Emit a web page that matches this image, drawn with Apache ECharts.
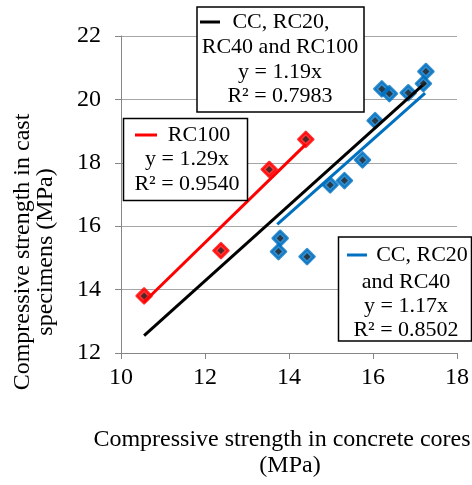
<!DOCTYPE html>
<html><head><meta charset="utf-8">
<script src="https://cdn.jsdelivr.net/npm/echarts@6/dist/echarts.min.js"></script>
<style>html,body{margin:0;padding:0;background:#fff}#c{width:472px;height:485px}</style>
</head><body><div id="c"></div>
<script>
// ---- data ----
var xTicks = [10, 12, 14, 16, 18];
var yTicks = [12, 14, 16, 18, 20, 22];
var rc100Points = [[10.55,13.80],[12.38,15.23],[13.53,17.79],[14.40,18.74]];
var ccRc20Rc40Points = [[13.79,15.62],[13.75,15.20],[14.43,15.04],[14.98,17.30],[15.32,17.44],[15.75,18.09],[16.05,19.33],[16.21,20.33],[16.39,20.18],[16.84,20.21],[17.20,20.50],[17.26,20.88]];
var allPoints = rc100Points.concat(ccRc20Rc40Points);
var trendAll = [[10.55,12.55],[17.25,20.53]];
var trendRc100 = [[10.55,13.61],[14.40,18.58]];
var trendCc = [[13.72,16.06],[17.24,20.20]];
var xTitle = ['Compressive strength in concrete cores', '(MPa)'];
var yTitle = ['Compressive strength in cast', 'specimens (MPa)'];
var legAll = ['CC, RC20,', 'RC40 and RC100', 'y = 1.19x', 'R² = 0.7983'];
var legRc100 = ['RC100', 'y = 1.29x', 'R² = 0.9540'];
var legCc = ['CC, RC20', 'and RC40', 'y = 1.17x', 'R² = 0.8502'];

var FONT = '"Liberation Serif", "Times New Roman", serif';
var chart = echarts.init(document.getElementById('c'));

function txt(s, x, y, size, extra) {
  var o = {type:'text', x:x, y:y, z:100, style:{text:s, font: size+'px '+FONT, fill:'#000', align:'center', verticalAlign:'middle'}};
  if (extra) for (var k in extra) o[k]=extra[k];
  return o;
}
function box(x, y, w, h) {
  return {type:'rect', z:90, shape:{x:x,y:y,width:w,height:h}, style:{fill:'#fff', stroke:'#000', lineWidth:1.5}};
}
function dash(x1, x2, y, color) {
  return {type:'line', z:100, shape:{x1:x1,y1:y,x2:x2,y2:y}, style:{stroke:color, lineWidth:3}};
}
var LF = 22, TF = 24;
var graphics = [
  // y title
  txt(yTitle[0], 23, 252, TF, {rotation: Math.PI/2}),
  txt(yTitle[1], 46, 252, TF, {rotation: Math.PI/2}),
  // x title
  txt(xTitle[0], 282, 440, TF),
  txt(xTitle[1], 290, 466, TF),
  // legend box all
  box(197, 7, 167, 105),
  dash(200, 220, 22, '#000'),
  txt(legAll[0], 281, 22, LF),
  txt(legAll[1], 280, 47, LF),
  txt(legAll[2], 280, 72, LF),
  txt(legAll[3], 280, 96, LF),
  // legend box RC100
  box(123.5, 118.5, 124, 82),
  dash(135, 157, 135, '#FF0000'),
  txt(legRc100[0], 199, 135, LF),
  txt(legRc100[1], 187, 159, LF),
  txt(legRc100[2], 187, 184, LF),
  // legend box CC
  box(338.5, 237, 133, 104),
  dash(347, 367, 255, '#0070C0'),
  txt(legCc[0], 422, 255, LF),
  txt(legCc[1], 406, 282, LF),
  txt(legCc[2], 406, 306, LF),
  txt(legCc[3], 406, 330, LF)
];

chart.setOption({
  animation: false,
  backgroundColor: '#fff',
  grid: {left: 121, right: 15, top: 36, bottom: 132, containLabel: false},
  xAxis: {
    type: 'value', min: xTicks[0], max: xTicks[xTicks.length-1], interval: 2,
    axisLine: {show: true, lineStyle: {color: '#868686', width: 1}},
    axisTick: {show: true, inside: false, length: 6, lineStyle: {color: '#868686'}},
    axisLabel: {color: '#000', fontFamily: FONT, fontSize: 24, margin: 13},
    splitLine: {show: false}
  },
  yAxis: {
    type: 'value', min: yTicks[0], max: yTicks[yTicks.length-1], interval: 2,
    axisLine: {show: true, lineStyle: {color: '#868686', width: 1}},
    axisTick: {show: true, inside: false, length: 6, lineStyle: {color: '#868686'}},
    axisLabel: {color: '#000', fontFamily: FONT, fontSize: 24, margin: 20},
    splitLine: {show: true, lineStyle: {color: '#a6a6a6', width: 1}}
  },
  graphic: graphics,
  series: [
    {type:'scatter', name:'RC100', data: rc100Points, symbol:'diamond', symbolSize:15,
     itemStyle:{color:'#FF0000', borderColor:'#FF0000', borderWidth:2.5, borderJoin:'round'}, z:2},
    {type:'scatter', name:'CC, RC20 and RC40', data: ccRc20Rc40Points, symbol:'diamond', symbolSize:15,
     itemStyle:{color:'#0070C0', borderColor:'#0070C0', borderWidth:2.5, borderJoin:'round'}, z:2},
    {type:'line', data: trendRc100, symbol:'none', lineStyle:{color:'#FF0000', width:3}, z:3},
    {type:'line', data: trendCc, symbol:'none', lineStyle:{color:'#0070C0', width:3}, z:3},
    {type:'line', data: trendAll, symbol:'none', lineStyle:{color:'#000', width:3}, z:4},
    {type:'scatter', name:'all', data: allPoints, symbol:'diamond', symbolSize:7, itemStyle:{color:'#262626'}, z:5}
  ]
});
</script></body></html>
